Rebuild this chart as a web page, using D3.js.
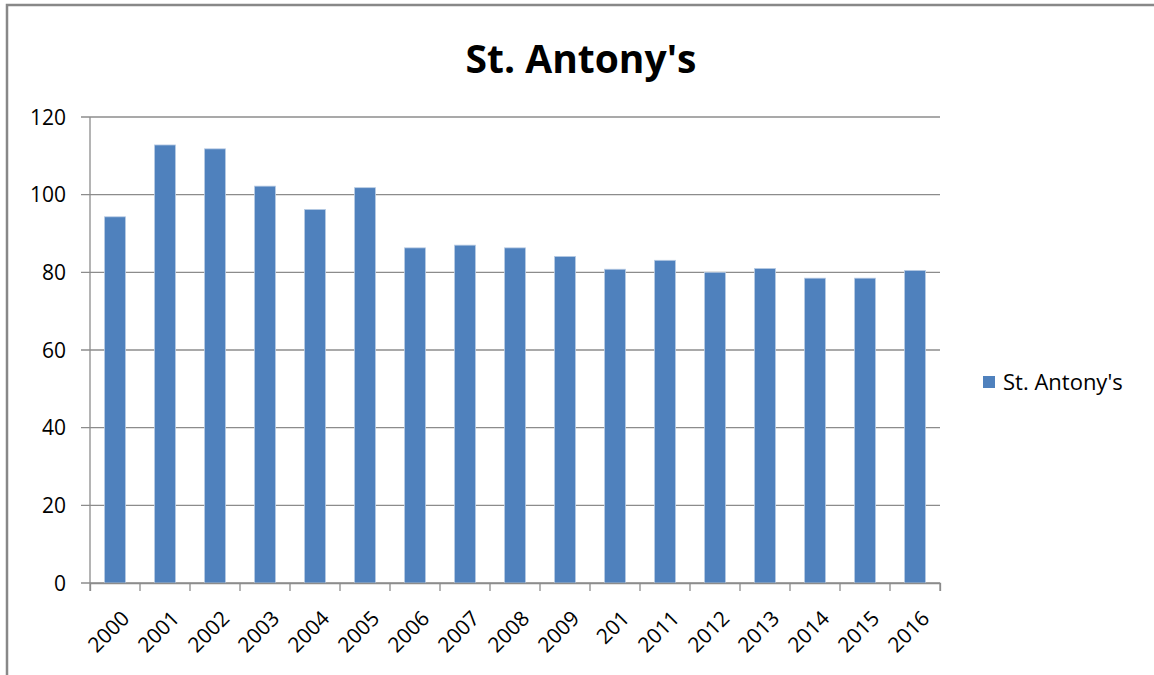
<!DOCTYPE html>
<html>
<head>
<meta charset="utf-8">
<script src="https://cdn.jsdelivr.net/npm/d3@7"></script>
<style>
  body { margin: 0; background: #fff; }
  text { font-family: "Open Sans", "Noto Sans", sans-serif; fill: #000; }
</style>
</head>
<body>
<div id="chart"></div>
<script>
const chartTitle = "St. Antony's";
const seriesName = "St. Antony's";
const years = ["2000", "2001", "2002", "2003", "2004", "2005", "2006", "2007", "2008",
               "2009", "201", "2011", "2012", "2013", "2014", "2015", "2016"];
const values = [94.3, 112.8, 111.8, 102.2, 96.2, 101.8, 86.3, 87.0, 86.3,
                84.1, 80.8, 83.1, 80.0, 81.0, 78.5, 78.5, 80.5];
const yTicks = [0, 20, 40, 60, 80, 100, 120];

const W = 1154, H = 675;
const margin = { top: 117, right: 214, bottom: 92, left: 90 };
const width = W - margin.left - margin.right;
const height = H - margin.top - margin.bottom;

const svg = d3.select("#chart").append("svg")
    .attr("width", W)
    .attr("height", H);

// chart frame
svg.append("path")
    .attr("d", `M7,${H + 2} L7,5 L${W + 2},5`)
    .attr("fill", "none")
    .attr("stroke", "#888")
    .attr("stroke-width", 2.5);

svg.append("text")
    .attr("x", 581)
    .attr("y", 73)
    .attr("text-anchor", "middle")
    .style("font-size", "39px")
    .style("font-weight", "bold")
    .text(chartTitle);

const g = svg.append("g")
    .attr("transform", `translate(${margin.left}, ${margin.top})`);

const x = d3.scaleBand().domain(years).range([0, width]).paddingInner(0.58).paddingOuter(0.29);
const xTick = d3.scaleBand().domain(years).range([0, width]);
const y = d3.scaleLinear().domain([0, 120]).range([height, 0]);

// gridlines
g.selectAll(".grid")
    .data(yTicks)
    .join("line")
    .attr("class", "grid")
    .attr("x1", -9)
    .attr("x2", width)
    .attr("y1", d => y(d))
    .attr("y2", d => y(d))
    .attr("stroke", "#8c8c8c")
    .attr("stroke-width", 1.3);

g.selectAll(".ylab")
    .data(yTicks)
    .join("text")
    .attr("class", "ylab")
    .attr("x", -24)
    .attr("y", d => y(d))
    .attr("dy", "0.36em")
    .attr("text-anchor", "end")
    .style("font-size", "21px")
    .text(d => d);

// bars
g.selectAll(".bar")
    .data(values)
    .join("rect")
    .attr("class", "bar")
    .attr("x", (d, i) => x(years[i]))
    .attr("y", d => y(d))
    .attr("width", x.bandwidth())
    .attr("height", d => height - y(d))
    .attr("fill", "#4f81bd")
    .attr("stroke", "#b9cce4")
    .attr("stroke-width", 0.8);

// axes lines
g.append("line")
    .attr("x1", 0).attr("x2", 0)
    .attr("y1", 0).attr("y2", height)
    .attr("stroke", "#8c8c8c").attr("stroke-width", 1.3);

const xAxis = d3.axisBottom(xTick).tickSize(8).tickFormat("");
const xg = g.append("g")
    .attr("transform", `translate(0, ${height})`)
    .call(xAxis);
xg.select(".domain").attr("stroke", "#8c8c8c").attr("stroke-width", 1.3);
xg.selectAll(".tick line")
    .attr("stroke", "#8c8c8c").attr("stroke-width", 1.3)
    .attr("transform", `translate(${-xTick.bandwidth() / 2}, 0)`);
xg.append("line")
    .attr("x1", width).attr("x2", width)
    .attr("y1", 0).attr("y2", 8)
    .attr("stroke", "#8c8c8c").attr("stroke-width", 1.3);

g.selectAll(".xlab")
    .data(years)
    .join("text")
    .attr("class", "xlab")
    .attr("text-anchor", "end")
    .attr("transform", d => `translate(${xTick(d) + xTick.bandwidth() / 2 + 5}, ${height + 26}) rotate(-45)`)
    .attr("dy", "0.72em")
    .style("font-size", "21px")
    .text(d => d);

// legend
const legend = svg.append("g").attr("transform", "translate(983, 376)");
legend.append("rect")
    .attr("width", 12).attr("height", 12)
    .attr("fill", "#4f81bd");
legend.append("text")
    .attr("x", 20)
    .attr("y", 6)
    .attr("dy", "0.36em")
    .style("font-size", "22px")
    .text(seriesName);
</script>
</body>
</html>
